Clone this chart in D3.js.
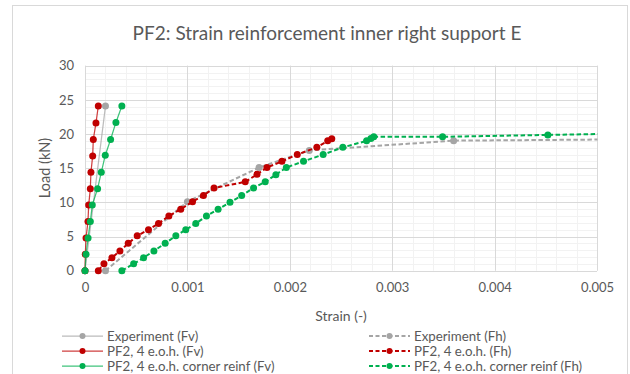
<!DOCTYPE html>
<html><head><meta charset="utf-8">
<script src="https://cdn.jsdelivr.net/npm/d3@7"></script>
<style>body{margin:0;background:#fff;} svg{display:block;}</style>
</head><body>
<svg id="chart" width="630" height="374"></svg>
<script>
const title = "PF2: Strain reinforcement inner right support E";
const xLabel = "Strain (-)";
const yLabel = "Load (kN)";
const xTicks = [0, 0.001, 0.002, 0.003, 0.004, 0.005];
const xTickLabels = ["0", "0.001", "0.002", "0.003", "0.004", "0.005"];
const yTicks = [0, 5, 10, 15, 20, 25, 30];

const seriesNames = ["Experiment (Fv)", "Experiment (Fh)", "PF2, 4 e.o.h. (Fv)", "PF2, 4 e.o.h. (Fh)", "PF2, 4 e.o.h. corner reinf (Fv)", "PF2, 4 e.o.h. corner reinf (Fh)"];

const expFvStrain = [0, 0.0002];
const expFvLoad = [0, 24.1];
const expFhStrain = [0.0002, 0.001, 0.0017, 0.00219, 0.0036, 0.006];
const expFhLoad = [0, 10.1, 15.1, 17.6, 19.03, 19.3];

const pfFvStrain = [0, 0.000003, 0.00001, 0.000029, 0.000036, 0.000052, 0.000058, 0.000075, 0.000081, 0.000107, 0.00013];
const pfFvLoad = [0, 2.4, 4.8, 7.2, 9.6, 12.0, 14.4, 16.8, 19.2, 21.6, 24.1];
const pfFhStrain = [0.00013, 0.000185, 0.000263, 0.000341, 0.000422, 0.00051, 0.00062, 0.000718, 0.000819, 0.000935, 0.00105, 0.001157, 0.00126, 0.001565, 0.00168, 0.001777, 0.001923, 0.002073, 0.002264, 0.00237, 0.00241];
const pfFhLoad = [0, 1.0, 1.9, 2.9, 4.0, 5.1, 6.0, 6.9, 8.0, 9.0, 10.1, 11.0, 12.1, 13.0, 14.1, 15.1, 16.0, 17.0, 18.05, 19.0, 19.3];

const crFvStrain = [0, 0.00001, 0.00003, 0.000052, 0.000071, 0.000123, 0.000159, 0.000198, 0.00025, 0.000302, 0.00036];
const crFvLoad = [0, 2.4, 4.8, 7.2, 9.6, 12.0, 14.4, 16.9, 19.2, 21.7, 24.1];
const crFhStrain = [0.00036, 0.000475, 0.000572, 0.000673, 0.000783, 0.000887, 0.000984, 0.001082, 0.001186, 0.0013, 0.001416, 0.00153, 0.001646, 0.00176, 0.001864, 0.001966, 0.002134, 0.002326, 0.002518, 0.00275, 0.002792, 0.00282, 0.003492, 0.00452, 0.0056];
const crFhLoad = [0, 1.0, 1.9, 2.9, 4.0, 5.1, 6.0, 6.9, 8.0, 9.0, 10.0, 11.0, 12.1, 13.0, 14.05, 15.1, 16.0, 17.0, 18.05, 19.0, 19.35, 19.6, 19.6, 19.87, 20.15];

const colors = ["#A5A5A5", "#A5A5A5", "#C00000", "#C00000", "#00B050", "#00B050"];
const dashed = [false, true, false, true, false, true];

const series = [
  [expFvStrain, expFvLoad], [expFhStrain, expFhLoad],
  [pfFvStrain, pfFvLoad], [pfFhStrain, pfFhLoad],
  [crFvStrain, crFvLoad], [crFhStrain, crFhLoad]
].map((s, i) => ({name: seriesNames[i], color: colors[i], dashed: dashed[i], pts: s[0].map((x, j) => [x, s[1][j]])}));

const font = "Lato, 'Open Sans', sans-serif";
const txt = "#595959";
const svg = d3.select("#chart");

// chart border
svg.append("rect").attr("x", 12.5).attr("y", 5.5).attr("width", 615).attr("height", 380)
  .attr("fill", "#fff").attr("stroke", "#D9D9D9").attr("stroke-width", 1);

const L = 85, R = 597, T = 65.7, B = 270.7;
const x = d3.scaleLinear().domain([0, 0.005]).range([L, R]);
const y = d3.scaleLinear().domain([0, 30]).range([B, T]);

// minor grid
const g = svg.append("g");
g.selectAll(".mx").data(d3.range(0, 0.00501, 0.0002)).enter().append("line")
  .attr("x1", d => Math.round(x(d)) + 0.5).attr("x2", d => Math.round(x(d)) + 0.5).attr("y1", T).attr("y2", B)
  .attr("stroke", "#F2F2F2");
g.selectAll(".my").data(d3.range(0, 31, 1)).enter().append("line")
  .attr("y1", d => Math.round(y(d)) + 0.5).attr("y2", d => Math.round(y(d)) + 0.5).attr("x1", L).attr("x2", R)
  .attr("stroke", "#F2F2F2");
// major grid
g.selectAll(".Mx").data(xTicks).enter().append("line")
  .attr("x1", d => Math.round(x(d)) + 0.5).attr("x2", d => Math.round(x(d)) + 0.5).attr("y1", T).attr("y2", B)
  .attr("stroke", "#D9D9D9");
g.selectAll(".My").data(yTicks).enter().append("line")
  .attr("y1", d => Math.round(y(d)) + 0.5).attr("y2", d => Math.round(y(d)) + 0.5).attr("x1", L).attr("x2", R)
  .attr("stroke", "#D9D9D9");

// axes (labels only)
const xAxis = d3.axisBottom(x).tickValues(xTicks).tickFormat((d, i) => xTickLabels[i]).tickSize(0).tickPadding(12);
const gx = svg.append("g").attr("transform", `translate(0,${B})`).call(xAxis);
gx.select(".domain").remove();
gx.selectAll("text").attr("fill", txt).style("font-family", font).style("font-size", "13px");
const yAxis = d3.axisLeft(y).tickValues(yTicks).tickSize(0).tickPadding(11);
const gy = svg.append("g").attr("transform", `translate(${L},0)`).call(yAxis);
gy.select(".domain").remove();
gy.selectAll("text").attr("fill", txt).style("font-family", font).style("font-size", "13px");

// clip
svg.append("clipPath").attr("id", "clip").append("rect").attr("x", L - 5).attr("y", T - 5).attr("width", R - L + 0.5 + 5).attr("height", B - T + 10);

const line = d3.line().x(d => x(d[0])).y(d => y(d[1]));
const plot = svg.append("g").attr("clip-path", "url(#clip)");
series.forEach(s => {
  const sg = plot.append("g");
  sg.append("path").attr("d", line(s.pts)).attr("fill", "none").attr("stroke", s.color)
    .attr("stroke-width", s.dashed ? 2 : 1.25).attr("stroke-dasharray", s.dashed ? "4.5,2.5" : null)
    .attr("opacity", s.dashed ? 1 : 0.75);
  sg.selectAll("circle").data(s.pts.filter(p => p[0] <= 0.005)).enter().append("circle")
    .attr("cx", d => x(d[0])).attr("cy", d => y(d[1])).attr("r", 3.5).attr("fill", s.color);
});

// titles
svg.append("text").attr("x", 327).attr("y", 40).attr("text-anchor", "middle").attr("fill", txt)
  .style("font-family", font).style("font-size", "19px").text(title);
svg.append("text").attr("x", 341).attr("y", 321).attr("text-anchor", "middle").attr("fill", txt)
  .style("font-family", font).style("font-size", "14px").text(xLabel);
svg.append("text").attr("transform", "translate(50,168) rotate(-90)").attr("text-anchor", "middle").attr("fill", txt)
  .style("font-family", font).style("font-size", "14.5px").text(yLabel);

// legend
const legX = [62, 369];
const legY = [336, 351, 366];
series.forEach((s, i) => {
  const col = i % 2, row = Math.floor(i / 2);
  const lx = legX[col], ly = legY[row];
  svg.append("line").attr("x1", lx).attr("x2", lx + 41).attr("y1", ly).attr("y2", ly)
    .attr("stroke", s.color).attr("stroke-width", s.dashed ? 2 : 1.25)
    .attr("stroke-dasharray", s.dashed ? "4,2.5" : null).attr("opacity", s.dashed ? 1 : 0.75);
  svg.append("circle").attr("cx", lx + 20.5).attr("cy", ly).attr("r", 3).attr("fill", s.color);
  svg.append("text").attr("x", lx + 45).attr("y", ly).attr("dy", "0.35em").attr("fill", txt)
    .style("font-family", font).style("font-size", "13.3px").text(s.name);
});
</script>
</body></html>
